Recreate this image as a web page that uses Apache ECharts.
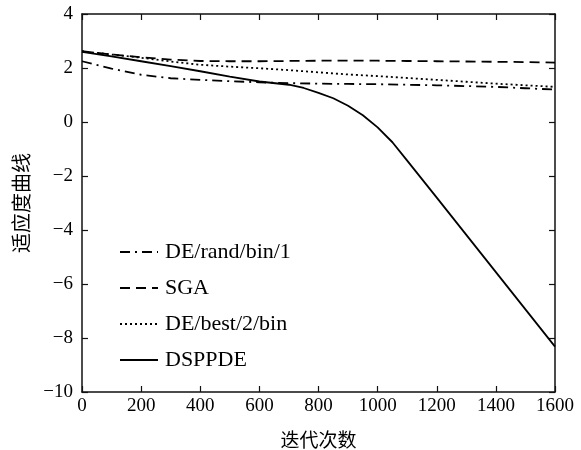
<!DOCTYPE html>
<html>
<head>
<meta charset="utf-8">
<script src="https://cdn.jsdelivr.net/npm/echarts@6/dist/echarts.min.js"></script>
<style>html,body{margin:0;padding:0;background:#fff}#c{width:581px;height:450px}</style>
</head>
<body>
<div id="c"></div>
<script>
const xTicks = [0, 200, 400, 600, 800, 1000, 1200, 1400, 1600];
const yTicks = [-10, -8, -6, -4, -2, 0, 2, 4];
const seriesNames = ['DE/rand/bin/1', 'SGA', 'DE/best/2/bin', 'DSPPDE'];

const iters = [0, 100, 200, 300, 400, 500, 600, 700, 800, 900, 1000, 1100, 1200, 1300, 1400, 1500, 1600];
const deRand = [2.25, 1.98, 1.75, 1.62, 1.56, 1.51, 1.47, 1.44, 1.42, 1.41, 1.40, 1.38, 1.36, 1.33, 1.30, 1.25, 1.20];
const sga    = [2.62, 2.50, 2.40, 2.31, 2.26, 2.25, 2.25, 2.26, 2.27, 2.27, 2.27, 2.26, 2.25, 2.24, 2.23, 2.22, 2.20];
const deBest = [2.62, 2.50, 2.38, 2.24, 2.12, 2.05, 1.99, 1.92, 1.84, 1.76, 1.70, 1.63, 1.56, 1.49, 1.42, 1.36, 1.30];

const itersD = [0, 100, 200, 300, 400, 500, 600, 700, 750, 800, 850, 900, 950, 1000, 1050, 1100, 1200, 1300, 1400, 1500, 1600];
const dsppde = [2.60, 2.43, 2.25, 2.07, 1.88, 1.68, 1.50, 1.38, 1.26, 1.08, 0.88, 0.60, 0.25, -0.20, -0.75, -1.43, -2.80, -4.18, -5.56, -6.94, -8.32];

const pair = (xs, ys) => xs.map((x, i) => [x, ys[i]]);
const FONT = '"Liberation Serif", "Times New Roman", serif';
const CJK = '"Noto Sans CJK SC", sans-serif';
const fmtY = v => String(v).replace('-', '\u2212');
const fmtX = v => String(v);

const chart = echarts.init(document.getElementById('c'), null, {renderer: 'canvas'});
const axisLine = {show: true, onZero: false, lineStyle: {color: '#111', width: 1.5}};
const tickIn = {show: true, inside: true, length: 6, lineStyle: {color: '#111', width: 1.2}};

function mkLine(name, data, type) {
  return {
    name: name, type: 'line', data: data, symbol: 'none', showSymbol: false, smooth: false,
    lineStyle: {color: '#000', width: 1.8, type: type},
    itemStyle: {color: '#000'}, animation: false
  };
}

chart.setOption({
  animation: false,
  backgroundColor: '#fff',
  grid: {left: 82, right: 26, top: 14, bottom: 58, containLabel: false, outerBoundsMode: 'none'},
  legend: {
    orient: 'vertical', left: 114, top: 236, itemWidth: 38, itemHeight: 14, itemGap: 14,
    data: seriesNames,
    itemStyle: {opacity: 0},
    textStyle: {fontFamily: FONT, fontSize: 22, color: '#000', padding: [0, 0, 0, 2]}
  },
  xAxis: [{
    type: 'value', min: 0, max: 1600, interval: 200,
    axisLine: axisLine, axisTick: tickIn, splitLine: {show: false},
    axisLabel: {fontFamily: FONT, fontSize: 19, color: '#000', margin: 5, formatter: fmtX},
    name: '迭代次数', nameLocation: 'middle', nameGap: 38,
    nameTextStyle: {fontFamily: CJK, fontSize: 19, color: '#000'}
  }, {
    type: 'value', min: 0, max: 1600, interval: 200, position: 'top',
    axisLine: axisLine, axisTick: tickIn, axisLabel: {show: false}, splitLine: {show: false}
  }],
  yAxis: [{
    type: 'value', min: -10, max: 4, interval: 2,
    axisLine: axisLine, axisTick: tickIn, splitLine: {show: false},
    axisLabel: {fontFamily: FONT, fontSize: 19, color: '#000', margin: 9, formatter: fmtY},
    name: '适应度曲线', nameLocation: 'middle', nameGap: 51, nameRotate: 90,
    nameTextStyle: {fontFamily: CJK, fontSize: 20, color: '#000'}
  }, {
    type: 'value', min: -10, max: 4, interval: 2, position: 'right',
    axisLine: axisLine, axisTick: tickIn, axisLabel: {show: false}, splitLine: {show: false}
  }],
  series: [
    mkLine(seriesNames[0], pair(iters, deRand), [10, 5, 2, 5]),
    mkLine(seriesNames[1], pair(iters, sga), [10, 6]),
    mkLine(seriesNames[2], pair(iters, deBest), [2, 3]),
    mkLine(seriesNames[3], pair(itersD, dsppde), 'solid')
  ]
});
</script>
</body>
</html>
